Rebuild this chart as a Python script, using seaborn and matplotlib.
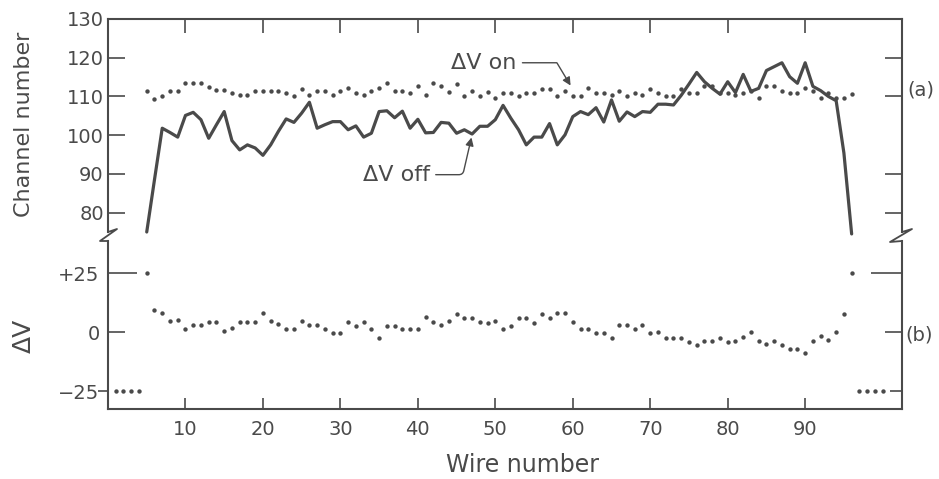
import matplotlib
matplotlib.use('Agg')
import matplotlib.pyplot as plt
import matplotlib.lines as mlines
import seaborn as sns
import pandas as pd

# Wire numbers (x) for the channel panel and the delta-V panel
wires_a = list(range(5, 97))
wires_b = list(range(1, 101))

# (a) channel number with delta-V on (dots), wires 5..96
dv_on = [111.5, 109.4, 110.0, 111.4, 111.5, 113.4, 113.4, 113.4, 112.4, 111.6,
         111.6, 110.8, 110.5, 110.5, 111.5, 111.5, 111.4, 111.4, 110.8, 110.2,
         112.0, 110.4, 111.4, 111.4, 110.5, 111.4, 112.2, 111.0, 110.3, 111.3,
         112.2, 113.4, 111.3, 111.4, 111.0, 112.6, 110.5, 113.4, 112.6, 111.2,
         113.2, 110.2, 111.3, 110.2, 111.2, 109.7, 111.0, 111.0, 110.0, 110.8,
         111.0, 112.0, 112.0, 110.2, 111.3, 110.1, 110.1, 112.2, 111.0, 111.0,
         110.4, 111.4, 110.0, 111.0, 110.5, 111.9, 110.8, 110.2, 110.2, 111.9,
         111.0, 111.0, 112.7, 112.7, 111.0, 110.8, 110.4, 110.8, 111.3, 109.7,
         112.7, 112.7, 111.4, 110.8, 110.8, 112.1, 111.4, 109.7, 110.8, 109.7,
         109.5, 110.7]

# (a) channel number with delta-V off (solid line), wires 5..96
dv_off = [75.0, 88.5, 101.8, 100.7, 99.5, 105.1, 105.9, 104.0, 99.2, 102.7,
          106.1, 98.6, 96.2, 97.5, 96.7, 94.8, 97.5, 101.0, 104.2, 103.3,
          105.7, 108.5, 101.8, 102.7, 103.5, 103.5, 101.4, 102.4, 99.5, 100.5,
          106.1, 106.3, 104.5, 106.2, 101.8, 104.1, 100.6, 100.7, 103.3, 103.1,
          100.5, 101.4, 100.3, 102.3, 102.3, 104.0, 107.7, 104.4, 101.4, 97.5,
          99.5, 99.5, 103.0, 97.5, 100.1, 104.8, 106.1, 105.3, 107.1, 103.4,
          109.1, 103.6, 106.0, 104.8, 106.1, 105.9, 108.0, 108.0, 107.8, 110.3,
          113.2, 116.2, 113.8, 112.1, 110.6, 113.8, 111.0, 115.7, 111.3, 112.1,
          116.7, 117.7, 118.7, 115.1, 113.4, 118.7, 112.6, 111.5, 110.0, 108.9,
          95.4, 74.5]

# (b) applied delta-V, wires 1..100
delta_v = [-25, -25, -25, -25, 25, 9.3, 7.9, 4.7, 5.1, 1.1,
           3.0, 3.0, 4.2, 4.4, 0.4, 1.6, 4.4, 4.4, 4.4, 7.9,
           4.8, 3.3, 1.4, 1.4, 4.8, 3.0, 3.0, 1.4, -0.3, -0.3,
           4.1, 2.5, 4.4, 1.4, -2.3, 2.5, 2.7, 1.3, 1.3, 1.3,
           6.2, 4.4, 2.8, 4.9, 7.6, 6.1, 6.1, 4.1, 3.7, 4.8,
           1.3, 2.7, 5.8, 6.1, 4.0, 7.6, 5.8, 7.9, 7.9, 4.4,
           1.1, 1.4, -0.3, -0.3, -2.3, 2.8, 2.8, 1.1, 3.0, -0.3,
           0.0, -2.7, -2.7, -2.5, -4.2, -5.6, -3.8, -3.8, -2.3, -4.1,
           -3.7, -2.0, -0.1, -3.7, -5.2, -3.7, -5.5, -7.1, -7.1, -8.9,
           -3.7, -1.7, -3.5, -0.1, 7.6, 25, -25, -25, -25, -25]

x_ticks = [10, 20, 30, 40, 50, 60, 70, 80, 90]
ch_ticks = [80, 90, 100, 110, 120, 130]
dv_ticks = [-25, 0, 25]
dv_labels = ['\u221225', '0', '+25']

INK = '#4a4a4a'
W, H = 939, 479


def fx(px):
    return px / W


def fy(py):
    return 1 - py / H


sns.set_style('white')
plt.rcParams['font.family'] = ['DejaVu Sans']
plt.rcParams['text.color'] = INK
plt.rcParams['axes.edgecolor'] = INK
plt.rcParams['axes.linewidth'] = 1.5
plt.rcParams['xtick.color'] = INK
plt.rcParams['ytick.color'] = INK

df_a = pd.DataFrame({'wire': wires_a, 'on': dv_on, 'off': dv_off})
df_b = pd.DataFrame({'wire': wires_b, 'dv': delta_v})

fig = plt.figure(figsize=(9.39, 4.79), dpi=100)
ax_top = fig.add_axes([fx(108), fy(232), (902 - 108) / W, (232 - 19) / H])
ax_bot = fig.add_axes([fx(108), fy(409), (902 - 108) / W, (409 - 241) / H])

# top panel
sns.lineplot(data=df_a, x='wire', y='off', ax=ax_top, color=INK, lw=2.3,
             clip_on=False)
sns.scatterplot(data=df_a, x='wire', y='on', ax=ax_top, color=INK, s=10,
                linewidth=0)
ax_top.set_xlim(0, 102.5)
ax_top.set_ylim(75, 130)
ax_top.set_xticks(x_ticks)
ax_top.set_yticks(ch_ticks)
ax_top.set_xlabel('')
ax_top.set_ylabel('')
ax_top.spines['bottom'].set_visible(False)
ax_top.tick_params(axis='x', direction='in', top=True, bottom=False,
                   labeltop=False, labelbottom=False, length=10, width=1.2)
ax_top.tick_params(axis='y', direction='in', left=True, right=True,
                   labelright=False, length=12, width=1.2, labelsize=14, pad=3)
for t, v in zip(ax_top.yaxis.get_major_ticks(), ch_ticks):
    if v in (100, 130):
        t.tick2line.set_visible(False)

ax_top.annotate('\u0394V on', xy=(59.9, 112.2), xytext=(48.5, 118.7),
                ha='center', va='center', fontsize=16,
                arrowprops=dict(arrowstyle='-|>', color=INK, lw=1,
                                mutation_scale=12,
                                connectionstyle='angle,angleA=0,angleB=-59,rad=0'))
ax_top.annotate('\u0394V off', xy=(47.0, 100.1), xytext=(37.2, 89.8),
                ha='center', va='center', fontsize=16,
                arrowprops=dict(arrowstyle='-|>', color=INK, lw=1,
                                mutation_scale=12,
                                connectionstyle='angle,angleA=0,angleB=77,rad=4'))

# bottom panel
sns.scatterplot(data=df_b, x='wire', y='dv', ax=ax_bot, color=INK, s=10,
                linewidth=0)
ax_bot.set_xlim(0, 102.5)
ax_bot.set_ylim(-32.6, 38.6)
ax_bot.set_xticks(x_ticks)
ax_bot.set_xticklabels([str(v) for v in x_ticks])
ax_bot.set_yticks(dv_ticks)
ax_bot.set_yticklabels(dv_labels)
ax_bot.set_xlabel('')
ax_bot.set_ylabel('')
ax_bot.spines['top'].set_visible(False)
ax_bot.tick_params(axis='x', direction='in', bottom=True, top=False,
                   length=8, width=1.2, labelsize=14, pad=8)
ax_bot.tick_params(axis='y', direction='in', left=True, right=True,
                   labelright=False, length=12, width=1.2, labelsize=14, pad=6)
yt = ax_bot.yaxis.get_major_ticks()
yt[0].tick1line.set_marker(mlines.TICKLEFT)
yt[0].tick1line.set_markersize(7)
yt[0].tick2line.set_markersize(9)
yt[2].tick1line.set_markersize(21)
yt[2].tick2line.set_markersize(22)

# axis break marks
for xs, ys in [([108, 117, 100, 108], [232, 229, 241, 241]),
               ([902, 912, 890, 902], [232, 229, 242, 241])]:
    fig.add_artist(mlines.Line2D([fx(v) for v in xs], [fy(v) for v in ys],
                                 transform=fig.transFigure, color=INK, lw=1.3))

fig.text(fx(24), fy(124), 'Channel number', rotation=90, ha='center',
         va='center', fontsize=16)
fig.text(fx(24), fy(336), '\u0394V', rotation=90, ha='center', va='center',
         fontsize=18)
fig.text(fx(522), fy(465), 'Wire number', ha='center', va='center',
         fontsize=17)
fig.text(fx(921), fy(90), '(a)', ha='center', va='center', fontsize=14)
fig.text(fx(919), fy(335), '(b)', ha='center', va='center', fontsize=14)

fig.savefig('out.png', dpi=100)
plt.close(fig)
